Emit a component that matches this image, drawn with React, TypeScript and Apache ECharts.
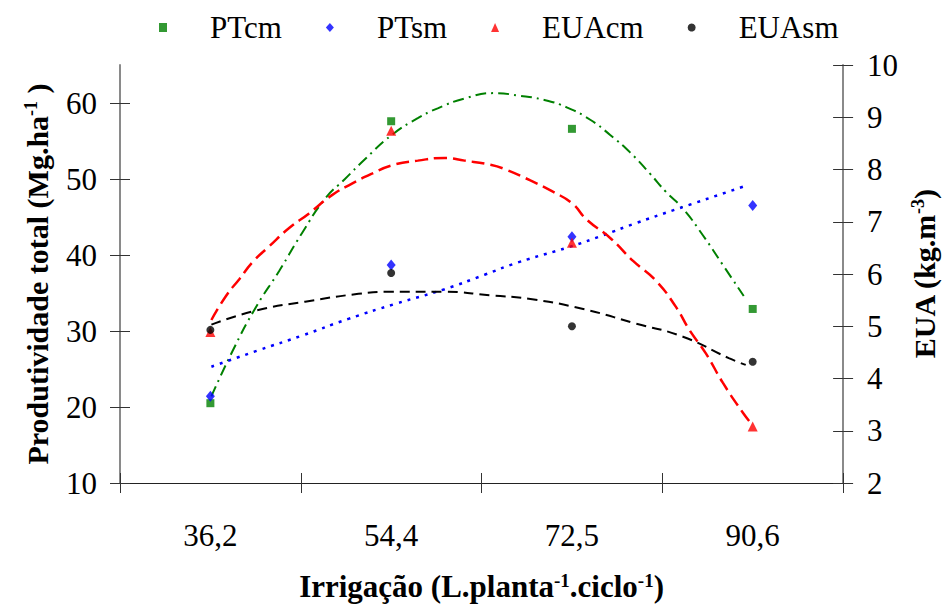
import React, { useEffect, useRef } from "react";
import * as echarts from "echarts";

// categories (irrigation, L.planta-1.ciclo-1)
const categories = ["36,2", "54,4", "72,5", "90,6"];
const irrigation = [36.2, 54.4, 72.5, 90.6];

// observed values
const ptcm = [20.5, 57.6, 56.6, 32.9]; // Mg.ha-1 (left axis)
const ptsm = [21.4, 38.7, 42.4, 46.5]; // Mg.ha-1 (left axis)
const euacm = [4.89, 8.74, 6.6, 3.08]; // kg.m-3 (right axis)
const euasm = [4.93, 6.02, 5.0, 4.32]; // kg.m-3 (right axis)

// trend curves: [irrigation, value]
const trendPTcm = [
  [36.3, 21.4], [38.4, 27.3], [40.75, 33.1], [43.1, 37.9], [45.4, 42.9],
  [47.7, 47.4], [49.7, 50.0], [51.7, 52.6], [54.4, 55.8], [57.0, 58.0],
  [59.0, 59.3], [61.7, 60.6], [64.7, 61.3], [67.0, 61.0], [69.7, 60.4],
  [72.0, 59.4], [74.3, 57.8], [76.3, 55.8], [78.3, 53.5], [80.3, 50.7],
  [81.9, 48.3], [83.6, 46.1], [85.6, 42.6], [87.6, 38.7], [89.7, 34.6],
];
const trendPTsm = [
  [36.3, 25.3], [41.1, 27.5], [45.4, 29.4], [50.05, 31.6], [54.7, 33.55],
  [59.7, 35.5], [63.7, 37.4], [67.0, 39.0], [72.3, 41.1], [75.6, 42.6],
  [78.9, 44.2], [84.25, 46.6], [89.9, 49.1],
];
const trendEUAcm = [
  [36.3, 5.12], [37.8, 5.59], [39.1, 5.9], [40.4, 6.22], [42.1, 6.53],
  [44.1, 6.88], [46.1, 7.16], [48.4, 7.51], [50.4, 7.73], [52.4, 7.92],
  [54.4, 8.08], [57.0, 8.17], [59.7, 8.22], [61.7, 8.17], [64.3, 8.09],
  [65.7, 8.01], [68.3, 7.79], [70.6, 7.57], [72.5, 7.35], [73.95, 7.04],
  [76.3, 6.69], [78.6, 6.25], [80.9, 5.87], [82.9, 5.37], [84.25, 4.93],
  [85.9, 4.48], [87.6, 3.92], [89.6, 3.35], [90.6, 3.1],
];
const trendEUAsm = [
  [36.3, 5.03], [40.75, 5.3], [45.7, 5.47], [51.05, 5.62], [54.4, 5.66],
  [59.7, 5.66], [64.3, 5.59], [68.3, 5.52], [73.6, 5.33], [78.9, 5.05],
  [83.6, 4.8], [88.2, 4.39], [89.9, 4.26],
];

// tick values
const leftTicks = [10, 20, 30, 40, 50, 60];
const leftMin = 10;
const leftMax = 65;
const rightMin = 2;
const rightMax = 10;

const SERIF = "Liberation Serif";
const YAXIS_COLOR = "#8a8a8a";
const XAXIS_COLOR = "#222222";
const TICK_COLOR = "#333333";

export default function App() {
  const ref = useRef<HTMLDivElement>(null);

  useEffect(() => {
    document.body.style.margin = "0";
    if (!ref.current) return;
    const chart = echarts.init(ref.current, null, { renderer: "svg", width: 947, height: 607 });

    const step = (irrigation[irrigation.length - 1] - irrigation[0]) / (irrigation.length - 1);
    const xMin = irrigation[0] - step / 2;
    const xMax = irrigation[irrigation.length - 1] + step / 2;

    const richName = (size: number) => ({
      b: { fontFamily: SERIF, fontWeight: "bold", fontSize: size, color: "#000", lineHeight: size },
      s: { fontFamily: SERIF, fontWeight: "bold", fontSize: Math.round(size * 0.6), color: "#000", verticalAlign: "top", lineHeight: Math.round(size * 0.6) },
    });

    const tickLabel = { fontFamily: SERIF, fontSize: 31, color: "#000" };
    const tickStyle = { color: TICK_COLOR, width: 1 };

    const option: any = {
      animation: false,
      backgroundColor: "#fff",
      textStyle: { fontFamily: SERIF },
      grid: { left: 120, right: 99, top: 65, bottom: 119, containLabel: false },
      legend: {
        left: 159,
        top: 12,
        padding: 0,
        itemWidth: 8,
        itemHeight: 9,
        itemGap: 44,
        textStyle: { fontFamily: SERIF, fontSize: 31, color: "#000", padding: [0, 0, 0, 38] },
        data: [
          { name: "PTcm", icon: "rect" },
          { name: "PTsm", icon: "diamond" },
          { name: "EUAcm", icon: "triangle" },
          { name: "EUAsm", icon: "circle" },
        ],
      },
      xAxis: [
        {
          type: "category",
          data: categories,
          position: "bottom",
          boundaryGap: true,
          axisLine: { show: true, lineStyle: { color: XAXIS_COLOR, width: 1.2 } },
          axisTick: { show: true, length: 10, lineStyle: tickStyle },
          axisLabel: { ...tickLabel, margin: 37 },
          splitLine: { show: false },
          name: "{b|Irrigação (L.planta}{s|-1}{b|.ciclo}{s|-1}{b|)}",
          nameLocation: "middle",
          nameGap: 88,
          nameTextStyle: { fontFamily: SERIF, rich: richName(31) },
        },
        {
          type: "category",
          data: categories,
          position: "bottom",
          boundaryGap: true,
          axisLine: { show: false },
          axisTick: { show: true, inside: true, length: 10, lineStyle: tickStyle },
          axisLabel: { show: false },
          splitLine: { show: false },
        },
        {
          type: "value",
          min: xMin,
          max: xMax,
          show: false,
          splitLine: { show: false },
        },
      ],
      yAxis: [
        {
          type: "value",
          position: "left",
          min: leftMin,
          max: leftMax,
          axisLine: { show: true, lineStyle: { color: YAXIS_COLOR, width: 2 } },
          axisTick: { show: true, length: 10, customValues: leftTicks, lineStyle: tickStyle },
          axisLabel: { ...tickLabel, margin: 23, customValues: leftTicks },
          splitLine: { show: false },
          name: "{b|Produtividade total (Mg.ha}{s|-1}{b| )}",
          nameLocation: "middle",
          nameRotate: 90,
          nameGap: 68,
          nameTextStyle: { fontFamily: SERIF, rich: richName(30) },
        },
        {
          type: "value",
          position: "left",
          min: leftMin,
          max: leftMax,
          axisLine: { show: false },
          axisTick: { show: true, inside: true, length: 10, customValues: leftTicks, lineStyle: tickStyle },
          axisLabel: { show: false, customValues: leftTicks },
          splitLine: { show: false },
        },
        {
          type: "value",
          position: "right",
          min: rightMin,
          max: rightMax,
          interval: 1,
          axisLine: { show: true, lineStyle: { color: YAXIS_COLOR, width: 2 } },
          axisTick: { show: true, length: 10, lineStyle: tickStyle },
          axisLabel: { ...tickLabel, margin: 24 },
          splitLine: { show: false },
          name: "{b|EUA (kg.m}{s|-3}{b|)}",
          nameLocation: "middle",
          nameRotate: 90,
          nameGap: 65,
          nameTextStyle: { fontFamily: SERIF, rich: richName(30) },
        },
        {
          type: "value",
          position: "right",
          min: rightMin,
          max: rightMax,
          interval: 1,
          axisLine: { show: false },
          axisTick: { show: true, inside: true, length: 10, lineStyle: tickStyle },
          axisLabel: { show: false },
          splitLine: { show: false },
        },
      ],
      series: [
        {
          name: "PTcm trend",
          type: "line",
          xAxisIndex: 2,
          yAxisIndex: 0,
          data: trendPTcm,
          smooth: true,
          showSymbol: false,
          symbol: "none",
          z: 2,
          lineStyle: { color: "#008000", width: 2, type: [11, 5, 2, 5] },
        },
        {
          name: "PTsm trend",
          type: "line",
          xAxisIndex: 2,
          yAxisIndex: 0,
          data: trendPTsm,
          smooth: true,
          showSymbol: false,
          symbol: "none",
          z: 2,
          lineStyle: { color: "#0000ff", width: 2.5, type: [3, 6] },
        },
        {
          name: "EUAcm trend",
          type: "line",
          xAxisIndex: 2,
          yAxisIndex: 2,
          data: trendEUAcm,
          smooth: true,
          showSymbol: false,
          symbol: "none",
          z: 2,
          lineStyle: { color: "#ff0000", width: 2.5, type: [13, 6] },
        },
        {
          name: "EUAsm trend",
          type: "line",
          xAxisIndex: 2,
          yAxisIndex: 2,
          data: trendEUAsm,
          smooth: true,
          showSymbol: false,
          symbol: "none",
          z: 2,
          lineStyle: { color: "#000000", width: 2, type: [10, 6] },
        },
        {
          name: "PTcm",
          type: "scatter",
          xAxisIndex: 0,
          yAxisIndex: 0,
          data: ptcm,
          symbol: "rect",
          symbolSize: 8,
          z: 3,
          itemStyle: { color: "#008000" },
        },
        {
          name: "PTsm",
          type: "scatter",
          xAxisIndex: 0,
          yAxisIndex: 0,
          data: ptsm,
          symbol: "diamond",
          symbolSize: [9, 11],
          z: 3,
          itemStyle: { color: "#0000ff" },
        },
        {
          name: "EUAcm",
          type: "scatter",
          xAxisIndex: 0,
          yAxisIndex: 2,
          data: euacm,
          symbol: "triangle",
          symbolSize: 10,
          z: 3,
          itemStyle: { color: "#ff0000" },
        },
        {
          name: "EUAsm",
          type: "scatter",
          xAxisIndex: 0,
          yAxisIndex: 2,
          data: euasm,
          symbol: "circle",
          symbolSize: 8,
          z: 3,
          itemStyle: { color: "#000000" },
        },
      ],
    };

    chart.setOption(option);
    return () => {
      chart.dispose();
    };
  }, []);

  return (
    <div
      ref={ref}
      style={{ position: "absolute", left: 0, top: 0, width: 947, height: 607, background: "#fff" }}
    />
  );
}
